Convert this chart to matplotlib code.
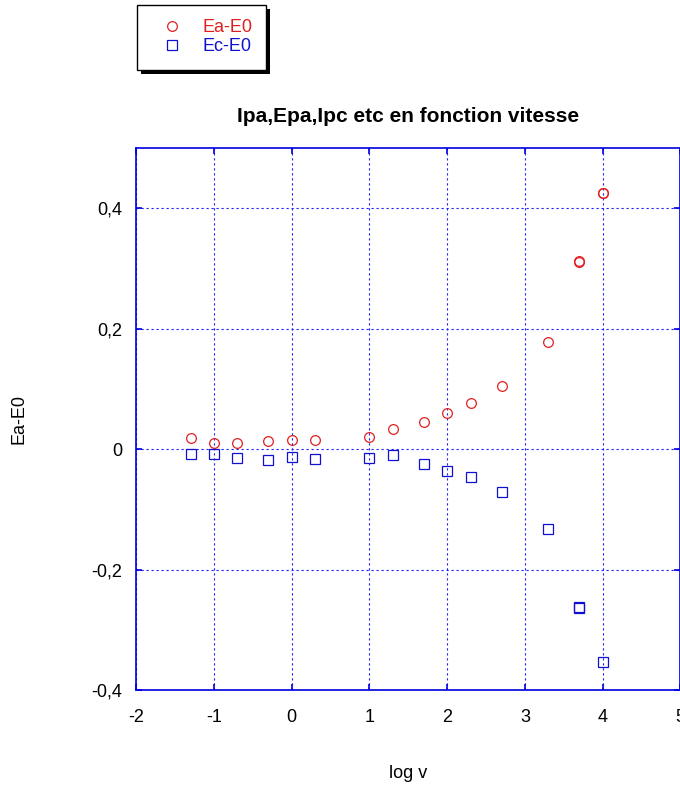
import numpy as np
import matplotlib

matplotlib.use('Agg')
import matplotlib.pyplot as plt
from matplotlib.patches import Rectangle
from matplotlib.ticker import FuncFormatter

plt.rcParams['font.family'] = ['Liberation Sans', 'DejaVu Sans']
plt.rcParams['axes.unicode_minus'] = False

# scan rates (V/s) and peak potentials relative to E0 (V)
v_a = [0.05, 0.1, 0.2, 0.5, 1, 2, 10, 20, 50, 100, 200, 500, 2000, 5000, 5000, 10000, 10000]
ea_e0 = [0.0187, 0.0105, 0.0105, 0.0138, 0.0154, 0.0154, 0.0198, 0.0336, 0.0457, 0.0606,
         0.0771, 0.105, 0.1785, 0.3105, 0.3120, 0.4245, 0.4258]

v_c = [0.05, 0.1, 0.2, 0.5, 1, 2, 10, 20, 50, 100, 200, 500, 2000, 5000, 5000, 10000]
ec_e0 = [-0.0083, -0.0083, -0.0143, -0.0176, -0.0138, -0.0165, -0.0149, -0.0099, -0.0242,
         -0.0358, -0.0463, -0.0705, -0.132, -0.2615, -0.2630, -0.354]

x_ticks = [-2, -1, 0, 1, 2, 3, 4, 5]
y_ticks = [-0.4, -0.2, 0, 0.2, 0.4]

fig = plt.figure(figsize=(6.8, 7.85), dpi=100)
ax = fig.add_axes([0.2005, 0.121, 0.8, 0.6905])

ax.plot(np.log10(v_a), ea_e0, 'o', mfc='none', mec='#e02020', mew=0.9, ms=7.0, label='Ea-E0')
ax.plot(np.log10(v_c), ec_e0, 's', mfc='none', mec='#1010d0', mew=0.9, ms=6.8, label='Ec-E0')

ax.set_xlim(-2, 5)
ax.set_ylim(-0.4, 0.5)
ax.set_xticks(x_ticks)
ax.set_yticks(y_ticks)
ax.yaxis.set_major_formatter(FuncFormatter(lambda y, p: ('%g' % round(y, 3)).replace('.', ',')))

ax.grid(True, color='#2020ff', linestyle=(0, (2, 2.5)), linewidth=0.8)
for s in ax.spines.values():
    s.set_color('#0000e0')
    s.set_linewidth(1.2)
ax.tick_params(direction='in', length=4, width=1.2, color='#0000e0', top=True, right=True,
               labelsize=13)
ax.tick_params(axis='y', pad=10)
ax.tick_params(axis='x', pad=14)

ax.set_title('Ipa,Epa,Ipc etc en fonction vitesse', fontsize=15, fontweight='bold', pad=19)
ax.set_xlabel('log v', fontsize=13)
ax.xaxis.set_label_coords(0.5, -0.138)
ax.set_ylabel('Ea-E0', fontsize=13)
ax.yaxis.set_label_coords(-0.2, 0.5)

leg = fig.legend(loc='upper left', bbox_to_anchor=(0.2015, 0.994), fancybox=False,
                 framealpha=1, edgecolor='black',
                 fontsize=13, handlelength=2.3, handletextpad=0.5, borderpad=0.8,
                 labelspacing=0.12, borderaxespad=0)
leg.get_frame().set_linewidth(1.0)
for t, c in zip(leg.get_texts(), ['#e02020', '#1010d0']):
    t.set_color(c)

# hard black drop shadow behind the legend box
fig.canvas.draw()
bb = leg.get_window_extent()
fig.patches.append(Rectangle((bb.x0 + 4, bb.y0 - 4), bb.width, bb.height, transform=None,
                             facecolor='black', edgecolor='none', zorder=4))

fig.savefig('out.png', dpi=100)
plt.close(fig)
